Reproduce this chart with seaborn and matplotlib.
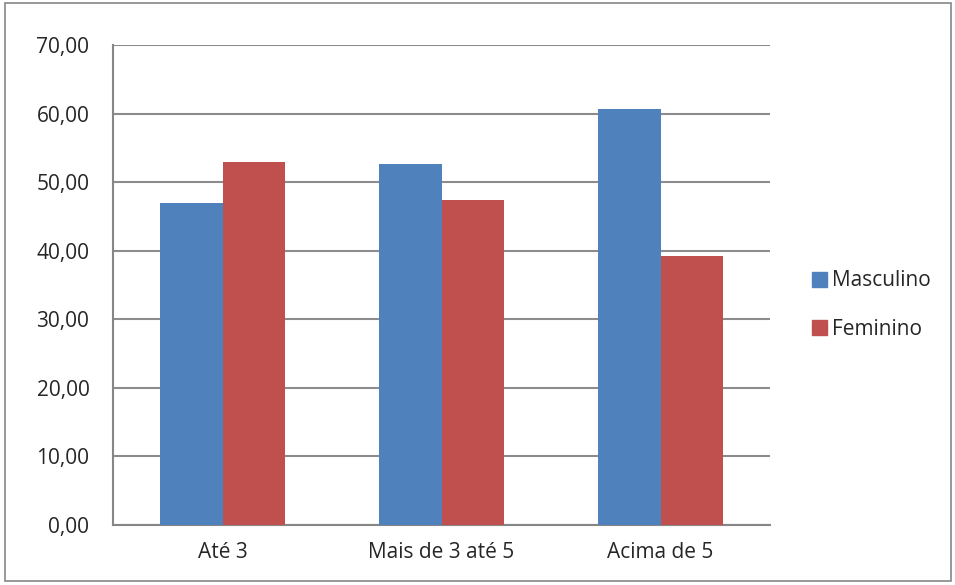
import matplotlib
matplotlib.use("Agg")
import matplotlib.pyplot as plt
import matplotlib.patches as mpatches
import pandas as pd
import seaborn as sns

categories = ["Até 3", "Mais de 3 até 5", "Acima de 5"]
masculino = [47.0, 52.6, 60.7]
feminino = [53.0, 47.4, 39.3]
series_names = ["Masculino", "Feminino"]
yticks = [0, 10, 20, 30, 40, 50, 60, 70]

colors = {"Masculino": "#4F81BD", "Feminino": "#C0504D"}

df = pd.DataFrame({
    "categoria": categories * 2,
    "valor": masculino + feminino,
    "sexo": ["Masculino"] * 3 + ["Feminino"] * 3,
})

sns.set_style("white")
plt.rcParams["font.family"] = ["Open Sans", "DejaVu Sans"]
fs = 15

fig = plt.figure(figsize=(9.55, 5.85), dpi=100)
ax = fig.add_axes([113 / 955, 1 - 525 / 585, (770 - 113) / 955, 480 / 585])

sns.barplot(data=df, x="categoria", y="valor", hue="sexo",
    order=categories, hue_order=series_names, palette=colors,
    width=0.57, saturation=1, linewidth=0, legend=False, ax=ax, zorder=3)

ax.set_ylim(0, 70)
ax.set_xlim(-0.5, 2.5)
ax.set_yticks(yticks)
ax.set_yticklabels([f"{v:.2f}".replace(".", ",") for v in yticks], fontsize=fs)
ax.set_xticks([0, 1, 2])
ax.set_xticklabels(categories, fontsize=fs)
ax.set_xticks([-0.5, 0.5, 1.5, 2.5], minor=True)
ax.tick_params(axis="x", which="major", length=0, pad=12)
ax.tick_params(axis="x", which="minor", length=7, color="#868686", width=1.2, direction="out")
ax.tick_params(axis="y", length=7, color="#868686", width=1.2, direction="out", pad=10)
ax.set_xlabel("")
ax.set_ylabel("")
ax.grid(axis="y", color="#8C8C8C", linewidth=1.5, zorder=0)
ax.set_axisbelow(True)
for side in ["top", "right"]:
    ax.spines[side].set_visible(False)
for side in ["left", "bottom"]:
    ax.spines[side].set_color("#868686")
    ax.spines[side].set_linewidth(1.5)

handles = [mpatches.Patch(color=colors[s], label=s) for s in series_names]
fig.legend(handles=handles, loc="center left", bbox_to_anchor=(793 / 955, 1 - 305 / 585),
    frameon=False, fontsize=fs, handlelength=0.75, handleheight=0.75,
    handletextpad=0.2, labelspacing=1.3)

fig.patches.append(mpatches.Rectangle((5 / 955, 4 / 585), 946 / 955, 578 / 585,
    transform=fig.transFigure, fill=False, edgecolor="#868686", linewidth=1.2))

fig.savefig("out.png", dpi=100)
